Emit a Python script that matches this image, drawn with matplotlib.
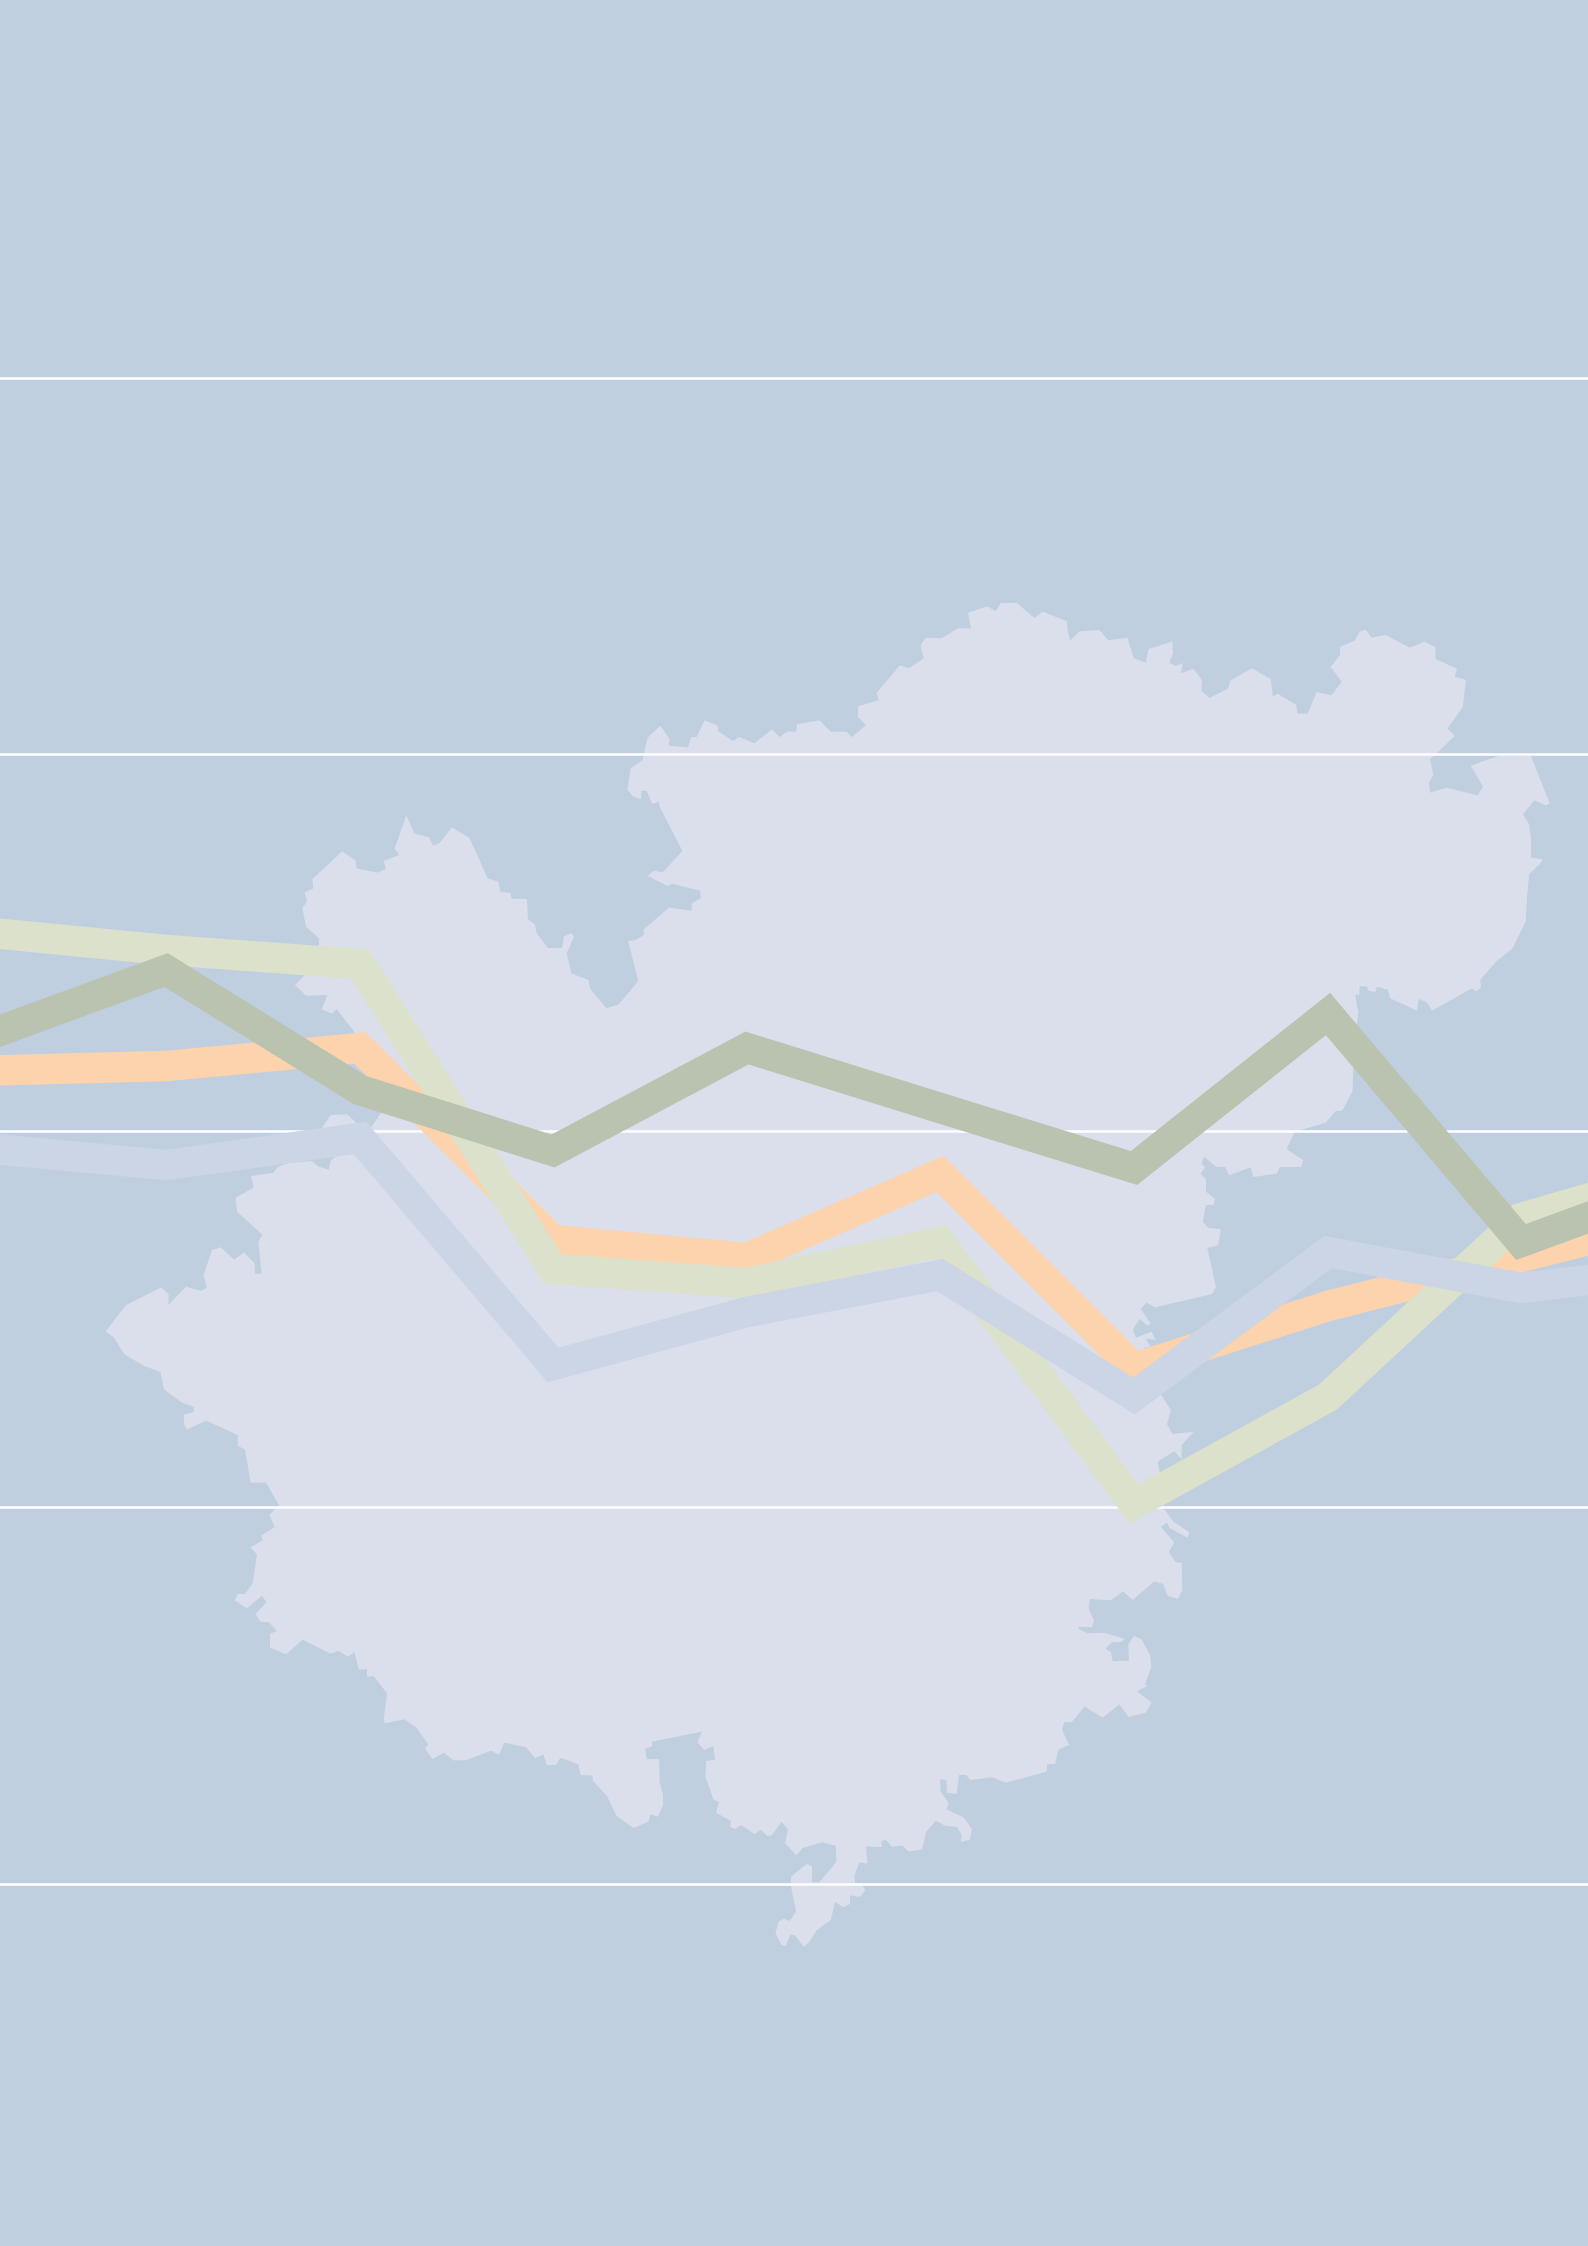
#!/usr/bin/env python3
#  -*- coding: utf-8 -*-

import matplotlib
matplotlib.use('Agg')
import matplotlib.pyplot as plt
from matplotlib.patches import Polygon

WIDTH, HEIGHT = 1588, 2246

# series (y axis is in picture pixels, first and last point fall outside)
x_pos = [-28, 166, 360, 553, 747, 940, 1134, 1328, 1521, 1715]
series_orange = [1071, 1066, 1048, 1240, 1258, 1174, 1368, 1306, 1257, 1208]
series_green = [931, 950, 964, 1269, 1283, 1242, 1504, 1397, 1218, 1162]
series_blue = [1147, 1165, 1138, 1365, 1312, 1275, 1396, 1252, 1288, 1265]
series_dark = [1041, 970, 1090, 1151, 1048, 1108, 1168, 1014, 1242, 1171]
grid_y = [377.5, 754, 1130.7, 1507, 1884]

# coast, traced piece by piece from crops at 3x: (crop left, crop top, points)
coast_north = (600, 590, [
    (128, 510), (132, 490), (143, 443), (181, 407), (209, 447), (206, 467), (264, 472), (274, 441),
    (290, 441), (314, 391), (352, 406), (355, 424), (399, 453), (417, 441), (463, 460), (516, 418),
    (539, 441), (562, 425), (589, 425), (591, 403), (659, 391), (692, 425), (740, 425), (755, 441),
    (798, 406), (773, 380), (775, 348), (836, 331), (830, 308), (900, 226), (926, 235), (971, 205),
    (962, 166), (977, 143), (1024, 145), (1076, 114), (1113, 116), (1104, 68), (1162, 49), (1187, 64),
    (1202, 39), (1251, 39), (1303, 84), (1328, 65), (1401, 94), (1403, 122), (1411, 151), (1437, 126)])
coast_northeast = (1080, 590, [
    (0, 124), (58, 120), (85, 151), (142, 143), (161, 205), (197, 218), (206, 177), (277, 155),
    (279, 190), (268, 218), (287, 228), (308, 219), (303, 250), (340, 236), (366, 270), (364, 303),
    (389, 324), (444, 296), (451, 272), (515, 235), (572, 267), (579, 320), (593, 311), (648, 344),
    (653, 371), (683, 371), (710, 306), (754, 316), (785, 275), (752, 231), (780, 195), (780, 170),
    (824, 152), (840, 124), (857, 119), (875, 143), (917, 135), (989, 173), (1034, 155), (1066, 171),
    (1066, 207), (1131, 236), (1124, 260), (1158, 270), (1148, 352), (1102, 416), (1125, 437), (1070, 490),
    (1050, 508), (1060, 555), (1047, 578), (1050, 608), (1100, 593), (1193, 616), (1209, 590), (1172, 527),
    (1255, 498), (1353, 498), (1409, 640), (1397, 646), (1363, 631), (1329, 673), (1347, 702), (1353, 745),
    (1353, 803), (1387, 808), (1380, 822), (1348, 852), (1341, 920), (1337, 995), (1298, 1075), (1250, 1113),
    (1201, 1169), (1203, 1193), (1186, 1205), (1176, 1195), (1056, 1262), (1040, 1237), (1016, 1227), (1011, 1262),
    (931, 1225), (923, 1199), (890, 1190), (887, 1206), (867, 1203), (860, 1189), (839, 1189), (838, 1216),
    (826, 1213), (833, 1260)])
coast_east = (1080, 1000, [
    (835, 30), (820, 200), (818, 272), (787, 332), (767, 333), (737, 368), (670, 388), (643, 398),
    (620, 447), (650, 468), (670, 480), (664, 501), (600, 501), (590, 521), (520, 531), (512, 502),
    (447, 526), (435, 501), (408, 500), (372, 470), (365, 490), (375, 502), (362, 522), (378, 538),
    (378, 575), (405, 597), (401, 614), (378, 615), (368, 665), (385, 684), (423, 687), (414, 736),
    (382, 744), (408, 862), (396, 882), (226, 922), (199, 908), (182, 927), (212, 970), (204, 977),
    (179, 957), (158, 989), (168, 1013), (215, 995), (227, 1020), (197, 1016), (212, 1040), (193, 1043),
    (195, 1068), (245, 1187), (273, 1230), (261, 1272)])
coast_southeast = (980, 1420, [
    (577, 42), (642, 35), (605, 75), (605, 118), (583, 94), (533, 125), (540, 160), (540, 262),
    (555, 270), (580, 305), (628, 337), (622, 353), (568, 323), (562, 308), (543, 320), (582, 368),
    (567, 396), (586, 426), (605, 429), (607, 510), (593, 537), (562, 527), (550, 492), (523, 484),
    (458, 540), (429, 514), (393, 541), (330, 537), (326, 565), (342, 603), (336, 622), (294, 620),
    (298, 628), (323, 640), (372, 638), (434, 657), (423, 666), (395, 667), (377, 686), (393, 696),
    (398, 724), (447, 722), (445, 673), (462, 648), (485, 658), (510, 705), (514, 740), (495, 793),
    (503, 798), (471, 814), (515, 848), (497, 878), (446, 891), (418, 853), (368, 893), (314, 860),
    (275, 907), (253, 906), (246, 929), (267, 975), (236, 988), (225, 1032), (201, 1033), (200, 1055),
    (78, 1088), (37, 1072)])
coast_south = (680, 1700, [
    (871, 240), (858, 225), (837, 225), (830, 282), (801, 278), (799, 241), (780, 237), (782, 275),
    (806, 309), (799, 328), (851, 352), (876, 388), (869, 419), (843, 426), (845, 404), (832, 381),
    (795, 377), (767, 362), (739, 395), (726, 448), (686, 455), (667, 437), (636, 440), (618, 420),
    (604, 423), (606, 441), (558, 439), (562, 491), (538, 487), (524, 525), (525, 548), (545, 551),
    (556, 571), (539, 591), (510, 586), (510, 612), (489, 622), (466, 605), (452, 660), (411, 690),
    (384, 731), (371, 740), (345, 706), (331, 704), (317, 739), (304, 734), (286, 700), (296, 665),
    (312, 656), (329, 663), (348, 635), (333, 558), (333, 530), (380, 492), (396, 499), (396, 547),
    (418, 547), (469, 486), (467, 437), (427, 427), (368, 444), (349, 466), (315, 429), (324, 389),
    (305, 365), (274, 407), (260, 407), (243, 389), (223, 402), (184, 375), (166, 387), (151, 381),
    (153, 363), (108, 338), (117, 307), (100, 298), (76, 229), (79, 183), (105, 179), (100, 138),
    (73, 150), (52, 127), (66, 95)])
coast_southwest = (210, 1480, [
    (1325, 785), (1327, 798), (1305, 807), (1310, 838), (1347, 837), (1349, 908), (1359, 943), (1359, 975),
    (1344, 1010), (1322, 1003), (1316, 1025), (1270, 1044), (1219, 1007), (1191, 948), (1148, 902), (1148, 887),
    (1112, 885), (1105, 853), (1051, 833), (1039, 855), (1011, 855), (1000, 824), (975, 834), (948, 802),
    (883, 788), (867, 824), (843, 812), (767, 841), (730, 841), (702, 818), (667, 837), (645, 805),
    (655, 793), (618, 741), (582, 718), (524, 730), (522, 713), (531, 640), (491, 589), (471, 590),
    (471, 567), (447, 569), (433, 516), (414, 530), (386, 513), (361, 521), (278, 479), (228, 523),
    (180, 503), (180, 461), (201, 453), (177, 427), (151, 425), (136, 402), (170, 367), (156, 347),
    (110, 385), (74, 361), (83, 342), (105, 342), (128, 310), (141, 224), (122, 202), (158, 181),
    (154, 166), (194, 141), (178, 104), (196, 87), (208, 77)])
coast_west = (90, 1090, [
    (528, 1178), (482, 1178), (465, 1078), (443, 1068), (443, 1035), (349, 992), (291, 1018), (282, 1003),
    (282, 974), (311, 966), (312, 951), (276, 938), (222, 898), (211, 846), (161, 827), (103, 793),
    (72, 743), (47, 724), (107, 646), (214, 592), (236, 613), (235, 645), (288, 590), (333, 603),
    (350, 593), (341, 555), (366, 480), (392, 472), (432, 509), (462, 487), (494, 521), (495, 551),
    (515, 551), (505, 456), (517, 434), (441, 365), (437, 323), (491, 293), (483, 258), (551, 248),
    (562, 232), (590, 220), (665, 213), (686, 230), (716, 239), (722, 212), (737, 200), (697, 112),
    (722, 75), (773, 73), (800, 100), (835, 125), (873, 68)])
coast_northwest = (270, 790, [
    (345, 930), (290, 790), (250, 722), (200, 657), (186, 671), (155, 658), (172, 615), (108, 617),
    (75, 585), (103, 557), (147, 465), (147, 445), (108, 410), (97, 355), (111, 335), (104, 307),
    (130, 295), (127, 267), (217, 184), (257, 212), (259, 235), (322, 248), (348, 237), (340, 213),
    (387, 195), (374, 175), (409, 76), (433, 130), (477, 142), (490, 168), (510, 158), (545, 112),
    (598, 143), (653, 265), (685, 275), (691, 306), (722, 309), (724, 326), (771, 327), (774, 388),
    (795, 403), (800, 430), (834, 474), (876, 474), (882, 439), (905, 429), (912, 441), (890, 490),
    (904, 550), (955, 570), (960, 595), (1009, 655), (1046, 643), (1105, 573), (1074, 453), (1093, 451),
    (1122, 435), (1120, 419), (1198, 352), (1265, 363), (1265, 340), (1293, 325), (1290, 302), (1205, 281),
    (1193, 288), (1133, 258), (1152, 242), (1178, 247), (1237, 183), (1168, 48), (1167, 35), (1147, 42),
    (1130, 3), (1114, 2), (1113, 27), (1090, 20), (1072, 0)])
coast_close = (600, 590, [(92, 535)])

coast_pieces = [coast_north, coast_northeast, coast_east, coast_southeast, coast_south,
                coast_southwest, coast_west, coast_northwest, coast_close]

BG_COLOR = '#bfcfe0'
MAP_COLOR = '#dbdfeb'


def coast_points(pieces):
    points = []
    for left, top, crop_points in pieces:
        points += [(left + x / 3, top + y / 3) for x, y in crop_points]
    return points


def draw_band(ax, values, color):
    # projecting cap: agg cuts the path at the canvas edge, a butt cap leaves a notch there
    ax.plot(x_pos, values, color=color, linewidth=30.5 * 72 / 100,
            solid_joinstyle='miter', solid_capstyle='projecting')


fig = plt.figure(figsize=(WIDTH / 100, HEIGHT / 100), dpi=100)
ax = fig.add_axes([0, 0, 1, 1])
ax.set_facecolor(BG_COLOR)
ax.set_xlim(0, WIDTH)
ax.set_ylim(HEIGHT, 0)

ax.add_patch(Polygon(coast_points(coast_pieces), closed=True, facecolor=MAP_COLOR, edgecolor='none'))

ax.set_yticks(grid_y)
ax.set_xticks([])
ax.tick_params(left=False, labelleft=False)
ax.grid(axis='y', color='white', linewidth=1.8)
for spine in ax.spines.values():
    spine.set_visible(False)

draw_band(ax, series_orange, '#fdd3ae')
draw_band(ax, series_green, '#dce1cb')
draw_band(ax, series_blue, '#cbd5e6')
draw_band(ax, series_dark, '#bac2b0')

fig.savefig('out.png', dpi=100)
